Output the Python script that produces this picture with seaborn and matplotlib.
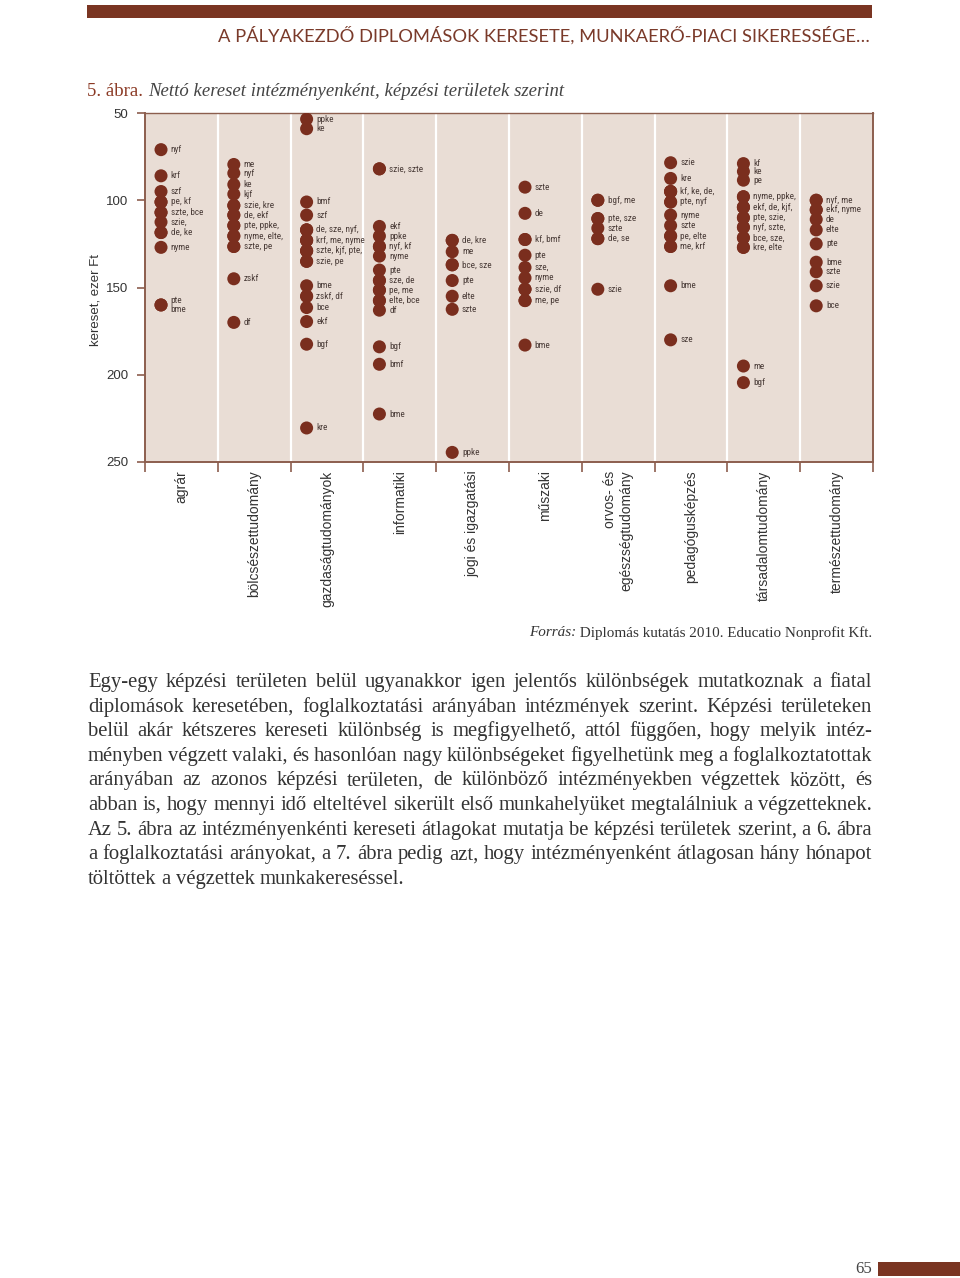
import re
import numpy as np
import pandas as pd
import matplotlib
matplotlib.use("Agg")
import matplotlib.pyplot as plt
import seaborn as sns
from matplotlib import font_manager

# ---------------- data ----------------
categories = ["agrár", "bölcsészettudomány", "gazdaságtudományok", "informatiki",
              "jogi és igazgatási", "műszaki", "orvos- és\negészségtudomány",
              "pedagógusképzés", "társadalomtudomány", "természettudomány"]

agrar_labels = ["nyf", "krf", "szf", "pe, kf", "szte, bce", "szie,", "de, ke", "nyme", "pte\nbme"]
agrar_values = [71, 86, 95, 101, 107, 112.5, 118.5, 127, 160]

bolcsesz_labels = ["me", "nyf", "ke", "kjf", "szie, kre", "de, ekf", "pte, ppke,",
                   "nyme, elte,", "szte, pe", "zskf", "df"]
bolcsesz_values = [79.5, 84.5, 91, 96.5, 103, 108.5, 114.5, 120.5, 126.5, 145, 170]

gazdasag_labels = ["ppke", "ke", "bmf", "szf", "de, sze, nyf,", "krf, me, nyme",
                   "szte, kjf, pte,", "szie, pe", "bme", "zskf, df", "bce", "ekf", "bgf", "kre"]
gazdasag_values = [53.5, 59, 101, 108.5, 117, 123, 129, 135, 149, 155, 161.5, 169.5, 182.5, 230.5]

informatika_labels = ["szie, szte", "ekf", "ppke", "nyf, kf", "nyme", "pte", "sze, de",
                      "pe, me", "elte, bce", "df", "bgf", "bmf", "bme"]
informatika_values = [82, 115, 120.5, 126.5, 132, 140, 146, 151.5, 157.5, 163, 184, 194, 222.5]

jogi_labels = ["de, kre", "me", "bce, sze", "pte", "elte", "szte", "ppke"]
jogi_values = [123, 129.5, 137, 146, 155, 162.5, 244.5]

muszaki_labels = ["szte", "de", "kf, bmf", "pte", "sze,", "nyme", "szie, df", "me, pe", "bme"]
muszaki_values = [92.5, 107.5, 122.5, 131.5, 138.5, 144.5, 151, 157.5, 183]

orvos_labels = ["bgf, me", "pte, sze", "szte", "de, se", "szie"]
orvos_values = [100, 110.5, 116, 122, 151]

pedagogus_labels = ["szie", "kre", "kf, ke, de,", "pte, nyf", "nyme", "szte", "pe, elte",
                    "me, krf", "bme", "sze"]
pedagogus_values = [78.5, 87.5, 95, 101, 108.5, 114.5, 120.5, 126.5, 149, 180]

tarsadalom_labels = ["kf", "ke", "pe", "nyme, ppke,", "ekf, de, kjf,", "pte, szie,",
                     "nyf, szte,", "bce, sze,", "kre, elte", "me", "bgf"]
tarsadalom_values = [79, 83.5, 88.5, 98, 104, 110, 115.5, 121.5, 127, 195, 204.5]

termeszet_labels = ["nyf, me", "ekf, nyme", "de", "elte", "pte", "bme", "szte", "szie", "bce"]
termeszet_values = [100, 105.5, 111, 117, 125, 135.5, 141, 149, 160.5]

y_ticks = [50, 100, 150, 200, 250]

header = "A PÁLYAKEZDŐ DIPLOMÁSOK KERESETE, MUNKAERŐ-PIACI SIKERESSÉGE…"
fig_no = "5. ábra."
fig_title = "Nettó kereset intézményenként, képzési területek szerint"
y_label = "kereset, ezer Ft"
source_it = "Forrás:"
source_rest = " Diplomás kutatás 2010. Educatio Nonprofit Kft."
paragraph = [
    "Egy-egy képzési területen belül ugyanakkor igen jelentős különbségek mutatkoznak a fiatal",
    "diplomások keresetében, foglalkoztatási arányában intézmények szerint. Képzési területeken",
    "belül akár kétszeres kereseti különbség is megfigyelhető, attól függően, hogy melyik intéz-",
    "ményben végzett valaki, és hasonlóan nagy különbségeket figyelhetünk meg a foglalkoztatottak",
    "arányában az azonos képzési területen, de különböző intézményekben végzettek között, és",
    "abban is, hogy mennyi idő elteltével sikerült első munkahelyüket megtalálniuk a végzetteknek.",
    "Az 5. ábra az intézményenkénti kereseti átlagokat mutatja be képzési területek szerint, a 6. ábra",
    "a foglalkoztatási arányokat, a 7. ábra pedig azt, hogy intézményenként átlagosan hány hónapot",
    "töltöttek a végzettek munkakereséssel.",
]
page_no = "65"

all_labels = [agrar_labels, bolcsesz_labels, gazdasag_labels, informatika_labels, jogi_labels,
              muszaki_labels, orvos_labels, pedagogus_labels, tarsadalom_labels, termeszet_labels]
all_values = [agrar_values, bolcsesz_values, gazdasag_values, informatika_values, jogi_values,
              muszaki_values, orvos_values, pedagogus_values, tarsadalom_values, termeszet_values]

# ---------------- fonts ----------------
available = {f.name for f in font_manager.fontManager.ttflist}
def pick(cands):
    for c in cands:
        if c in available:
            return c
    return "DejaVu Sans"

NARROW = pick(["Liberation Sans Narrow", "Roboto Condensed", "DejaVu Sans Condensed", "Liberation Sans"])
SANS = pick(["Liberation Sans", "Arial", "DejaVu Sans"])
SERIF = pick(["Liberation Serif", "DejaVu Serif"])
LIGHT = pick(["Lato", "Open Sans", "Liberation Sans"])

sns.set_style("white")
plt.rcParams["font.family"] = [SANS, "DejaVu Sans"]

# ---------------- build tables ----------------
DOT_OFFSET = -0.28
rows, lab_rows = [], []
for ci, (labs, vals) in enumerate(zip(all_labels, all_values)):
    for lab, v in zip(labs, vals):
        names = [n for n in re.split(r"[,\n]", lab) if n.strip()]
        lab_rows.append({"cat": ci, "value": v, "label": lab})
        for n in names:
            rows.append({"cat": ci, "x": ci + DOT_OFFSET, "value": v, "inst": n.strip()})
dots = pd.DataFrame(rows)
labels_df = pd.DataFrame(lab_rows)

W, H = 960, 1278
fig = plt.figure(figsize=(W / 100, H / 100), dpi=100)
fig.patch.set_facecolor("white")

BROWN = "#7a3522"
SPINE = "#8c5e4e"
DOT = "#7a2e1e"

ax = fig.add_axes([145 / W, 1 - 462 / H, (873 - 145) / W, (462 - 113) / H])
ax.set_facecolor("#e9ddd5")

sns.scatterplot(data=dots, x="x", y="value", color=DOT, s=88, edgecolor="none",
                linewidth=0, ax=ax, legend=False, zorder=3)

for _, r in labels_df.iterrows():
    ax.annotate(r["label"], xy=(r["cat"] + DOT_OFFSET, r["value"]), xytext=(7.0, 0),
                textcoords="offset points", ha="left", va="center", fontsize=6.6,
                family=[NARROW, "DejaVu Sans"], color="#4a3c38", linespacing=1.05,
                zorder=4)

for b in np.arange(0.5, 9.5, 1):
    ax.axvline(b, color="white", lw=1.6, zorder=1)

ax.set_xlim(-0.5, 9.5)
ax.set_ylim(250, 50)
ax.set_yticks(y_ticks)
ax.set_yticklabels([str(t) for t in y_ticks], fontsize=9.5, color="#333333")
ax.tick_params(axis="y", length=6, width=1.2, color=SPINE, pad=6, left=True)
ax.set_xticks(range(len(categories)))
ax.set_xticklabels(categories, rotation=90, fontsize=10, color="#333333",
                   multialignment="right")
ax.tick_params(axis="x", which="major", length=0, pad=6, bottom=True)
ax.set_xticks(np.arange(-0.5, 10, 1), minor=True)
ax.tick_params(axis="x", which="minor", length=7, width=1.2, color=SPINE, bottom=True)
ax.set_xlabel("")
ax.set_ylabel("")
for side, sp in ax.spines.items():
    sp.set_visible(True)
    sp.set_color(SPINE)
    sp.set_linewidth(1.4)
ax.spines["top"].set_linewidth(1.0)

fig.text(95 / W, 1 - 300 / H, y_label, rotation=90, ha="center", va="center",
         fontsize=9.5, color="#333333", family=[SANS, "DejaVu Sans"])

# ---------------- page decorations ----------------
fig.add_artist(plt.Rectangle((87 / W, 1 - 18 / H), (872 - 87) / W, 13 / H,
                             transform=fig.transFigure, color=BROWN, lw=0))
fig.text(870 / W, 1 - 35 / H, header, ha="right", va="center", fontsize=13.2,
         color="#7a3a2a", family=[LIGHT, "DejaVu Sans"])

renderer = fig.canvas.get_renderer()
t1 = fig.text(87 / W, 1 - 91 / H, fig_no + " ", ha="left", va="center", fontsize=13.5,
              color="#8b3a25", family=SERIF)
w1 = t1.get_window_extent(renderer).width
fig.text((87 + w1) / W, 1 - 91 / H, fig_title, ha="left", va="center", fontsize=13.5,
         color="#444444", family=SERIF, style="italic")

ts = fig.text(872 / W, 1 - 633 / H, source_rest, ha="right", va="center", fontsize=10.9,
              color="#333333", family=SERIF)
ws = ts.get_window_extent(renderer).width
fig.text((872 - ws) / W, 1 - 633 / H, source_it, ha="right", va="center", fontsize=10.9,
         color="#333333", family=SERIF, style="italic")

# justified paragraph
X0, X1, BASE0, DY = 88, 872, 687, 24.6
pkw = dict(fontsize=14.9, color="#333333", family=SERIF, va="baseline", ha="left")
sp_t = fig.text(0, 0, "a a", **pkw)
sp_w = sp_t.get_window_extent(renderer).width
a_t = fig.text(0, 0, "a", **pkw)
space_w = sp_w - 2 * a_t.get_window_extent(renderer).width
sp_t.remove(); a_t.remove()
for i, line in enumerate(paragraph):
    yb = BASE0 + i * DY
    words = line.split()
    texts = [fig.text(0, 0, w, **pkw) for w in words]
    widths = [t.get_window_extent(renderer).width for t in texts]
    if i == len(paragraph) - 1 or len(words) < 2:
        gap = space_w
    else:
        gap = (X1 - X0 - sum(widths)) / (len(words) - 1)
    x = X0
    for t, w in zip(texts, widths):
        t.set_position((x / W, 1 - yb / H))
        x += w + gap

fig.add_artist(plt.Rectangle((878 / W, 1 - 1276 / H), (960 - 878) / W, 14 / H,
                             transform=fig.transFigure, color=BROWN, lw=0))
fig.text(872 / W, 1 - 1269 / H, page_no, ha="right", va="center", fontsize=12,
         color="#444444", family=SERIF)

fig.savefig("out.png", dpi=100, facecolor="white")
